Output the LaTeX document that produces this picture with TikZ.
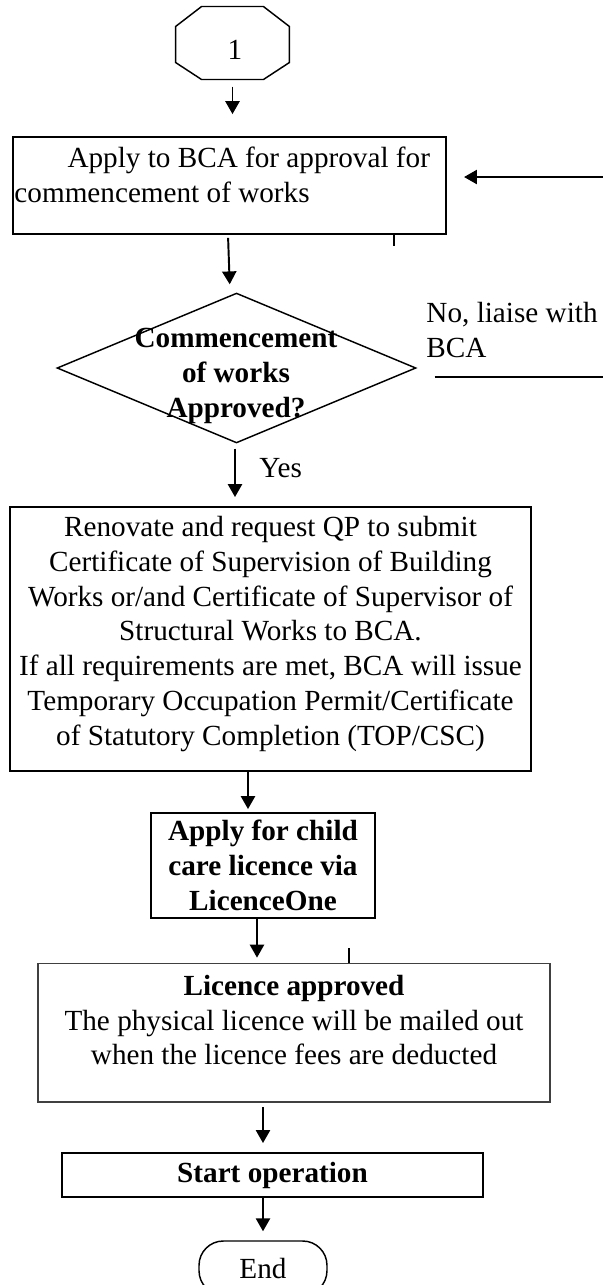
\documentclass[tikz,border=0pt]{standalone}
\usepackage{fontspec}
\setmainfont{Liberation Serif}
\usetikzlibrary{arrows.meta,shapes.geometric,calc}
\begin{document}
\begin{tikzpicture}[x=0.411pt,y=-0.411pt,
  every node/.style={font=\fontsize{12}{14.3}\selectfont},
  bf/.style={font=\fontsize{12}{14.3}\selectfont\bfseries},
  box/.style={draw, line width=0.8pt, inner sep=0pt},
  arr/.style={line width=0.8pt, -{Triangle[length=5.3pt,width=5.8pt]}},
  ]
\useasboundingbox (0,0) rectangle (603,1285);

% start connector "1"
\node[inner sep=0, minimum width=46.4pt, minimum height=29.6pt] (oct) at (232.5,43) {};
\draw[line width=0.6pt] ($(oct.north west)+(26,0)$) -- ($(oct.north east)+(-26,0)$)
  -- ($(oct.north east)+(0,20)$) -- ($(oct.south east)+(0,-17)$)
  -- ($(oct.south east)+(-26,0)$) -- ($(oct.south west)+(26,0)$)
  -- ($(oct.south west)+(0,-17)$) -- ($(oct.north west)+(0,20)$) -- cycle;
\node (one) at (235,50) {1};

% box 1
\node[box, minimum width=178pt, minimum height=39.9pt] (b1) at (229.5,185.5) {};
\node[align=left, anchor=west, inner sep=0] (t1) at (14,175)
  {\hspace*{21.8pt}Apply to BCA for approval for\\commencement of works};

% decision
\node[diamond, draw, line width=0.6pt, minimum width=147.5pt, minimum height=61.6pt, inner sep=0] (dia) at (236.5,368) {};
\node[bf, align=center, inner sep=0] (dt) at (236,376) {Commencement\\of works\\Approved?};
\node[align=left, anchor=west, inner sep=0] (no) at (426,330) {No, liaise with\\BCA};
\node[anchor=west, inner sep=0] (yes) at (259,468) {Yes};

% box 3
\node[box, minimum width=214.1pt, minimum height=108.5pt] (b3) at (270.5,639) {};
\node[align=center, inner sep=0] (t3) at (270.5,634)
  {Renovate and request QP to submit\\Certificate of Supervision of Building\\Works or/and Certificate of Supervisor of\\Structural Works to BCA.\\If all requirements are met, BCA will issue\\Temporary Occupation Permit/Certificate\\of Statutory Completion (TOP/CSC)};

% box 4
\node[box, bf, align=center, minimum width=92.1pt, minimum height=43.2pt] (b4) at (263,865.5)
  {Apply for child\\care licence via\\LicenceOne};

% box 5
\node[draw=black!75, line width=0.45pt, inner sep=0, minimum width=210.4pt, minimum height=57.1pt] (b5) at (294,1032.5) {};
\node[align=center, inner sep=0] (t5) at (294,1020)
  {\textbf{Licence approved}\\The physical licence will be mailed out\\when the licence fees are deducted};

% start operation
\node[box, bf, minimum width=173pt, minimum height=18.1pt] (st) at (272.5,1175) {Start operation};

% end
\node[draw, line width=0.6pt, rounded corners=10pt, minimum width=52.6pt, minimum height=22.2pt] (en) at (263,1268) {End};

% connectors
\draw[arr, shorten <=2.9pt, shorten >=9pt] (oct.south) -- (oct.south |- b1.north);
\draw[arr, shorten <=1.2pt, shorten >=3.3pt] ($(b1.south)+(-1.5,0)$) -- ($(dia.north)+(-6.5,0)$);
\draw[arr, shorten <=2pt, shorten >=3.7pt] ($(dia.south)+(-1.5,0)$) -- ($(dia.south |- b3.north)+(-1.5,0)$);
\draw[arr, shorten >=1.2pt] ($(b3.south)+(-22.5,0)$) -- ($(b4.north)+(-15,0)$);
\draw[arr, shorten >=2pt] ($(b4.south)+(-6,0)$) -- ($(b5.north)+(-37,0)$);
\draw[arr, shorten <=2pt, shorten >=3.7pt] ($(b5.south)+(-31,0)$) -- ($(st.north)+(-9.5,0)$);
\draw[arr, shorten >=3.7pt] ($(st.south)+(-9.5,0)$) -- (en.north);

% "No" loop (partly outside the page)
\coordinate (nr) at (603,377);
\coordinate (ar) at (603,177);
\draw[line width=0.8pt] ($(dia.east)+(18,9)$) -- (nr);
\draw[arr, shorten >=7pt] (ar) -- (ar -| b1.east);

% small stray ticks
\draw[line width=0.6pt] ($(b1.south)+(164.5,0)$) -- ++(0,11);
\draw[line width=0.6pt] ($(b5.north)+(55,0)$) -- ++(0,-15);
\end{tikzpicture}
\end{document}
